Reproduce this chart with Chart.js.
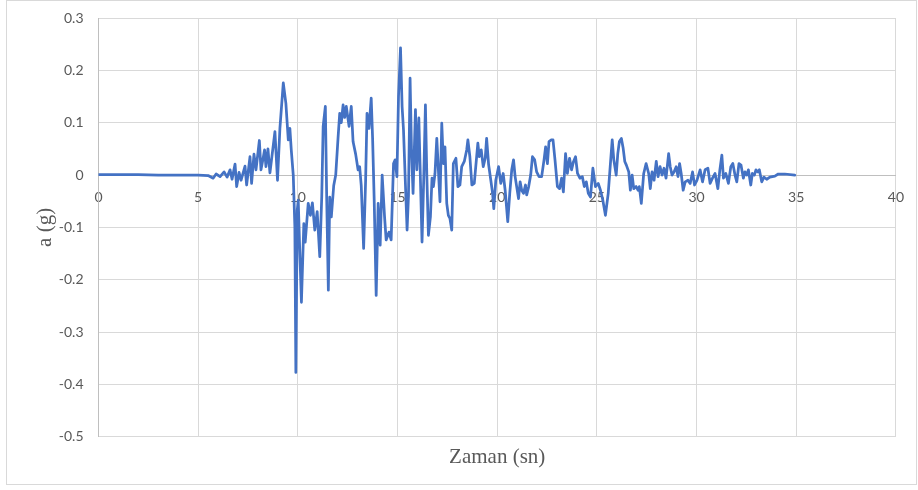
<!DOCTYPE html>
<html>
<head>
<meta charset="utf-8">
<script src="https://cdn.jsdelivr.net/npm/chart.js@4.4.1/dist/chart.umd.min.js"></script>
<style>
  html, body { margin: 0; padding: 0; background: #fff; }
  canvas { display: block; }
</style>
</head>
<body>
<canvas id="myChart" width="918" height="490"></canvas>
<script>
// time (s)
var times = [
    0, 1, 2, 3, 4, 5, 5.5, 5.75, 5.9, 6.1,
    6.3, 6.45, 6.6, 6.7, 6.85, 6.93, 7.05, 7.15, 7.35, 7.43,
    7.6, 7.68, 7.8, 7.9, 8.07, 8.15, 8.25, 8.33, 8.4, 8.5,
    8.6, 8.85, 8.98, 9.1, 9.27, 9.4, 9.52, 9.6, 9.67, 9.77,
    9.85, 9.9, 9.97, 10.02, 10.1, 10.18, 10.3, 10.37, 10.52, 10.63,
    10.73, 10.85, 10.97, 11.1, 11.2, 11.27, 11.38, 11.45, 11.53, 11.6,
    11.68, 11.8, 11.9, 12.02, 12.1, 12.18, 12.27, 12.35, 12.43, 12.57,
    12.68, 12.77, 12.9, 13.02, 13.1, 13.18, 13.3, 13.4, 13.47, 13.57,
    13.68, 13.75, 13.83, 13.93, 14.03, 14.13, 14.23, 14.35, 14.43, 14.57,
    14.68, 14.8, 14.88, 14.97, 15.05, 15.15, 15.23, 15.3, 15.38, 15.48,
    15.55, 15.63, 15.7, 15.78, 15.9, 15.97, 16.07, 16.13, 16.23, 16.32,
    16.4, 16.47, 16.55, 16.65, 16.73, 16.8, 16.88, 16.97, 17.05, 17.13,
    17.22, 17.3, 17.38, 17.47, 17.55, 17.63, 17.72, 17.8, 17.93, 18.03,
    18.13, 18.22, 18.35, 18.47, 18.53, 18.63, 18.73, 18.85, 18.97, 19.03,
    19.1, 19.2, 19.3, 19.4, 19.47, 19.57, 19.68, 19.77, 19.83, 19.93,
    20.07, 20.18, 20.3, 20.4, 20.53, 20.63, 20.73, 20.82, 20.9, 21.07,
    21.15, 21.23, 21.32, 21.42, 21.48, 21.58, 21.68, 21.77, 21.88, 21.98,
    22.1, 22.23, 22.35, 22.43, 22.52, 22.6, 22.7, 22.8, 22.9, 23.02,
    23.13, 23.23, 23.32, 23.43, 23.52, 23.63, 23.73, 23.83, 23.93, 24.03,
    24.15, 24.27, 24.37, 24.47, 24.57, 24.68, 24.8, 24.93, 25.07, 25.18,
    25.3, 25.43, 25.57, 25.68, 25.77, 25.85, 25.97, 26.05, 26.13, 26.23,
    26.32, 26.4, 26.48, 26.6, 26.68, 26.77, 26.85, 26.97, 27.07, 27.13,
    27.23, 27.35, 27.47, 27.6, 27.68, 27.77, 27.87, 27.98, 28.07, 28.17,
    28.27, 28.37, 28.47, 28.6, 28.68, 28.77, 28.87, 28.98, 29.07, 29.15,
    29.23, 29.33, 29.43, 29.57, 29.68, 29.8, 29.9, 30.02, 30.18, 30.3,
    30.43, 30.57, 30.68, 30.8, 30.93, 31.07, 31.17, 31.27, 31.35, 31.47,
    31.6, 31.72, 31.82, 31.93, 32.02, 32.13, 32.23, 32.35, 32.43, 32.52,
    32.6, 32.72, 32.8, 32.9, 32.98, 33.07, 33.15, 33.27, 33.38, 33.52,
    33.68, 33.93, 34.1, 34.43, 34.93
];

// acceleration (g)
var accel = [
    0.001, 0.001, 0.001, 0, 0, 0, -0.001, -0.006, 0.002, -0.003,
    0.006, -0.004, 0.01, -0.008, 0.021, -0.022, 0.005, -0.01, 0.017, -0.019,
    0.035, -0.016, 0.04, 0.01, 0.066, 0.01, 0.03, 0.048, 0.016, 0.05,
    0.004, 0.083, -0.01, 0.089, 0.176, 0.137, 0.067, 0.089, 0.048, 0,
    -0.099, -0.377, -0.067, -0.048, -0.15, -0.243, -0.093, -0.128, -0.054, -0.077,
    -0.053, -0.105, -0.07, -0.156, -0.04, 0.093, 0.131, -0.05, -0.22, -0.042,
    -0.08, -0.02, 0, 0.073, 0.118, 0.1, 0.134, 0.11, 0.131, 0.093,
    0.131, 0.064, 0.04, 0.01, 0.016, -0.02, -0.14, -0.01, 0.118, 0.089,
    0.147, 0.07, -0.048, -0.23, -0.054, -0.134, 0, -0.08, -0.124, -0.109,
    -0.124, 0.022, 0.029, -0.003, 0.15, 0.243, 0.131, 0.086, 0, -0.105,
    -0.04, 0.185, 0.05, -0.035, 0.125, 0.01, 0.109, 0.02, -0.128, 0,
    0.134, 0, -0.115, -0.08, -0.006, -0.022, 0.003, 0.07, 0.01, -0.051,
    0.099, 0.022, 0.054, -0.054, -0.077, -0.083, -0.105, 0.022, 0.032, -0.022,
    -0.019, 0.016, 0.026, 0.048, 0.067, 0.035, -0.019, -0.016, 0.035, 0.061,
    0.035, 0.048, 0.016, 0.032, 0.07, 0.02, -0.01, -0.035, -0.064, -0.01,
    0.016, -0.016, 0.003, -0.029, -0.089, -0.035, 0.01, 0.029, -0.003, -0.045,
    -0.013, -0.029, -0.035, -0.019, -0.038, -0.022, 0, 0.035, 0.029, 0.006,
    -0.003, -0.003, 0.029, 0.054, 0.022, 0.064, 0.067, 0.067, 0.029, -0.022,
    -0.026, -0.006, -0.032, 0.041, 0.003, 0.032, 0.01, 0.026, 0.035, 0.003,
    -0.006, -0.003, -0.022, -0.013, -0.035, -0.042, 0.013, -0.022, -0.016, -0.029,
    -0.048, -0.077, -0.035, 0.022, 0.067, 0.029, 0, 0.041, 0.064, 0.07,
    0.051, 0.026, 0.019, 0.006, -0.029, 0, -0.026, -0.022, -0.029, -0.022,
    -0.054, 0.003, 0.022, 0.003, -0.026, 0.006, -0.01, 0.026, -0.003, 0.016,
    0, 0.013, -0.006, 0.041, 0.016, 0, 0.006, 0.016, -0.003, 0.022,
    0.003, -0.029, -0.013, -0.01, -0.016, 0.006, -0.019, -0.01, 0.01, -0.013,
    0.01, 0.013, -0.016, -0.006, 0.003, -0.026, 0.01, 0.038, -0.006, 0.003,
    -0.016, 0.016, 0.022, 0, -0.013, 0.022, 0.019, -0.006, 0.006, 0,
    0.01, -0.019, 0.003, 0, 0.01, 0.006, 0.01, -0.013, -0.004, -0.008,
    -0.004, -0.002, 0.002, 0.002, 0
];

var xTitle = 'Zaman (sn)';
var yTitle = 'a (g)';

var points = times.map(function (t, i) { return { x: t, y: accel[i] }; });

var tickFont = { family: 'Lato', size: 14 };
var gray = '#595959';

// white page + thin outer frame like the spreadsheet chart box
var frame = {
    id: 'frame',
    beforeDraw: function (chart) {
        var c = chart.ctx;
        c.save();
        c.fillStyle = '#fff';
        c.fillRect(0, 0, chart.width, chart.height);
        c.strokeStyle = '#d9d9d9';
        c.lineWidth = 1;
        c.strokeRect(6.5, 0.5, 910, 484);
        c.restore();
    }
};

var ctx = document.getElementById('myChart').getContext('2d');
var chart = new Chart(ctx, {
    type: 'line',
    data: {
        datasets: [{
            data: points,
            borderColor: '#4472C4',
            borderWidth: 2.75,
            borderJoinStyle: 'round',
            borderCapStyle: 'round',
            pointRadius: 0,
            fill: false,
            tension: 0
        }]
    },
    plugins: [frame],
    options: {
        responsive: false,
        animation: false,
        devicePixelRatio: 1,
        layout: { padding: { left: 33, right: 22, top: 18, bottom: 12 } },
        plugins: {
            legend: { display: false },
            tooltip: { enabled: false },
            title: {
                display: true,
                text: xTitle,
                position: 'bottom',
                fullSize: false,
                color: gray,
                font: { family: 'Liberation Serif', size: 21, weight: 'normal' },
                padding: { top: 8, bottom: 8 }
            }
        },
        scales: {
            x: {
                type: 'linear',
                position: { y: 0 },
                min: 0,
                max: 40,
                ticks: { stepSize: 5, padding: 14, color: gray, font: tickFont, maxRotation: 0 },
                grid: { color: '#d9d9d9', drawTicks: false },
                border: { color: '#bfbfbf' }
            },
            y: {
                min: -0.5,
                max: 0.3,
                ticks: {
                    stepSize: 0.1,
                    padding: 15,
                    color: gray,
                    font: tickFont,
                    callback: function (v) { return String(Math.round(v * 10) / 10); }
                },
                grid: { color: '#d9d9d9', drawTicks: false },
                border: { color: '#bfbfbf' },
                title: {
                    display: true,
                    text: yTitle,
                    color: gray,
                    font: { family: 'Liberation Serif', size: 21, weight: 'normal' },
                    padding: 0
                },
                afterFit: function (scale) {
                    scale.width = 65.5;
                    // the tick padding should not push the plot down
                    scale.paddingTop = 0;
                    scale.paddingBottom = 0;
                }
            }
        }
    }
});
</script>
</body>
</html>
